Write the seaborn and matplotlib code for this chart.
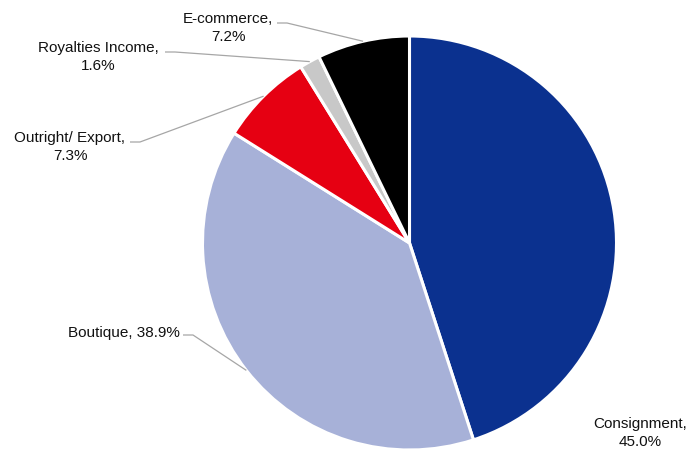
import numpy as np
import matplotlib
matplotlib.use("Agg")
import matplotlib.pyplot as plt
import seaborn as sns

# Data
categories = ["Consignment", "Boutique", "Outright/ Export", "Royalties Income", "E-commerce"]
shares = [45.0, 38.9, 7.3, 1.6, 7.2]
colors = ["#0B318F", "#A7B1D8", "#E60012", "#C8C8C8", "#000000"]

sns.set_theme(style="white")
plt.rcParams["font.family"] = ["Liberation Sans", "DejaVu Sans"]

W, H = 700, 450
CX, CY, R = 409.5, 243.0, 207.0

fig = plt.figure(figsize=(7, 4.5), dpi=100)
ax = fig.add_axes([0, 0, 1, 1])

wedges, _ = ax.pie(shares, colors=colors, startangle=90, counterclock=False,
                   radius=1.0, wedgeprops=dict(edgecolor="white", linewidth=2.2))
ax.set_xlim(-CX / R, (W - CX) / R)
ax.set_ylim(-(H - CY) / R, CY / R)
ax.set_aspect("auto")
ax.axis("off")

def px(x, y):
    return (x - CX) / R, (CY - y) / R

# label layout (pixel positions): text center, leader start, ha
layout = {
    "Consignment": dict(text=(640, 433), ha="center", lead=None, fmt="{},\n{:.1f}%"),
    "Boutique": dict(text=(180, 333), ha="right", lead=(183, 335), fmt="{}, {:.1f}%"),
    "Outright/ Export": dict(text=(70, 147), ha="center", lead=(130, 142), fmt="{},\n{:.1f}%"),
    "Royalties Income": dict(text=(98, 57), ha="center", lead=(165, 52), fmt="{},\n{:.1f}%"),
    "E-commerce": dict(text=(228, 28), ha="center", lead=(277, 23), fmt="{},\n{:.1f}%"),
}

for w, cat, val in zip(wedges, categories, shares):
    L = layout[cat]
    tx, ty = px(*L["text"])
    ax.text(tx, ty, L["fmt"].format(cat, val), ha=L["ha"], va="center",
            fontsize=11, color="#111111", linespacing=1.32)
    if L["lead"] is not None:
        mid = np.deg2rad((w.theta1 + w.theta2) / 2)
        ex, ey = np.cos(mid), np.sin(mid)
        sx, sy = px(*L["lead"])
        kx = sx + 10 / R
        ax.plot([sx, kx, ex], [sy, sy, ey], color="#A6A6A6", linewidth=0.9,
                solid_capstyle="butt")

fig.savefig("out.png", dpi=100)
